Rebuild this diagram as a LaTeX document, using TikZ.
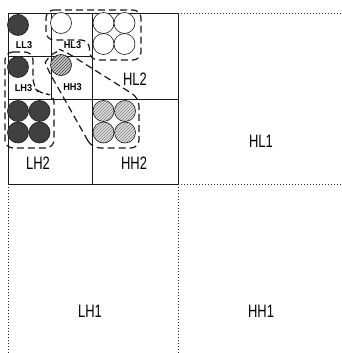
\documentclass[tikz,border=0pt]{standalone}
\usepackage{fontspec}
\newfontfamily\biglabfont[FakeStretch=0.72]{Liberation Sans}
\newfontfamily\smalllabfont[FakeStretch=0.92]{Liberation Sans}
\usetikzlibrary{patterns}
\begin{document}
\begin{tikzpicture}[x=1pt,y=-1pt,
  gridline/.style={line width=0.9pt, draw=black!90},
  dotline/.style={line width=0.9pt, draw=black!85, dash pattern=on 1pt off 2pt},
  encl/.style={line width=1.2pt, draw=black!90, dash pattern=on 7pt off 4pt, rounded corners=8pt},
  coef/.style={circle, line width=0.6pt, draw=black!90, minimum size=21pt, inner sep=0pt},
  darkc/.style={coef, fill=black!75},
  emptyc/.style={coef, fill=white},
  hatchc/.style={coef, preaction={fill=black!20}, pattern=north east lines, pattern color=black!75},
  lightc/.style={coef, preaction={fill=black!12}, pattern=north east lines, pattern color=black!50},
  biglab/.style={inner sep=0pt, font=\biglabfont\fontsize{18}{18}\selectfont},
  smalllab/.style={inner sep=0pt, font=\smalllabfont\bfseries\fontsize{10}{10}\selectfont}]
\useasboundingbox (0,0) rectangle (341,353);
% grid
\draw[gridline] (8,13) rectangle (178,184);
\draw[gridline] (92,13) -- (92,184);
\draw[gridline] (8,99) -- (178,99);
\draw[gridline] (51,13) -- (51,99);
\draw[gridline] (8,56) -- (92,56);
\draw[dotline] (178,13) -- (341,13);
\draw[dotline] (178,184) -- (341,184);
\draw[dotline] (8,184) -- (8,353);
\draw[dotline] (178,184) -- (178,353);
% coefficients
\node[darkc] (ll3c) at (18,25) {};
\node[emptyc] (hl3c) at (61,23) {};
\node[emptyc] (hl2a) at (103.5,23) {};
\node[emptyc] (hl2b) at (124.5,23) {};
\node[emptyc] (hl2c) at (103.5,44) {};
\node[emptyc] (hl2d) at (124.5,44) {};
\node[darkc] (lh3c) at (18,67) {};
\node[hatchc] (hh3c) at (61,65) {};
\node[darkc] (lh2a) at (18,111) {};
\node[darkc] (lh2b) at (39.5,111) {};
\node[darkc] (lh2c) at (18,132.5) {};
\node[darkc] (lh2d) at (39.5,132.5) {};
\node[lightc] (hh2a) at (103.5,111) {};
\node[lightc] (hh2b) at (125,111) {};
\node[lightc] (hh2c) at (103.5,132.5) {};
\node[lightc] (hh2d) at (125,132.5) {};
% enclosures
\draw[encl] (46,10) -- (141,10) -- (141,60) -- (90,60) -- (89,40) -- (46,40) -- cycle;
\draw[encl] (5,52) -- (33,52) -- (33,86) -- (40,94) -- (54,94) -- (54,148) -- (5,148) -- cycle;
\draw[encl] (92,148) -- (48,70) arc[start angle=-200,end angle=-67,radius=14] -- (139,98) -- (139,148) -- cycle;
% labels
\node[smalllab] (ll3) at (24,45) {LL3};
\node[smalllab] (hl3) at (72.5,45) {HL3};
\node[smalllab] (lh3) at (23.5,88.5) {LH3};
\node[smalllab] (hh3) at (72.5,87) {HH3};
\node[biglab] (hl2) at (135,79) {HL2};
\node[biglab] (lh2) at (38,163) {LH2};
\node[biglab] (hh2) at (134,163) {HH2};
\node[biglab] (hl1) at (261,141) {HL1};
\node[biglab] (lh1) at (90,311) {LH1};
\node[biglab] (hh1) at (261,311) {HH1};
\end{tikzpicture}
\end{document}
